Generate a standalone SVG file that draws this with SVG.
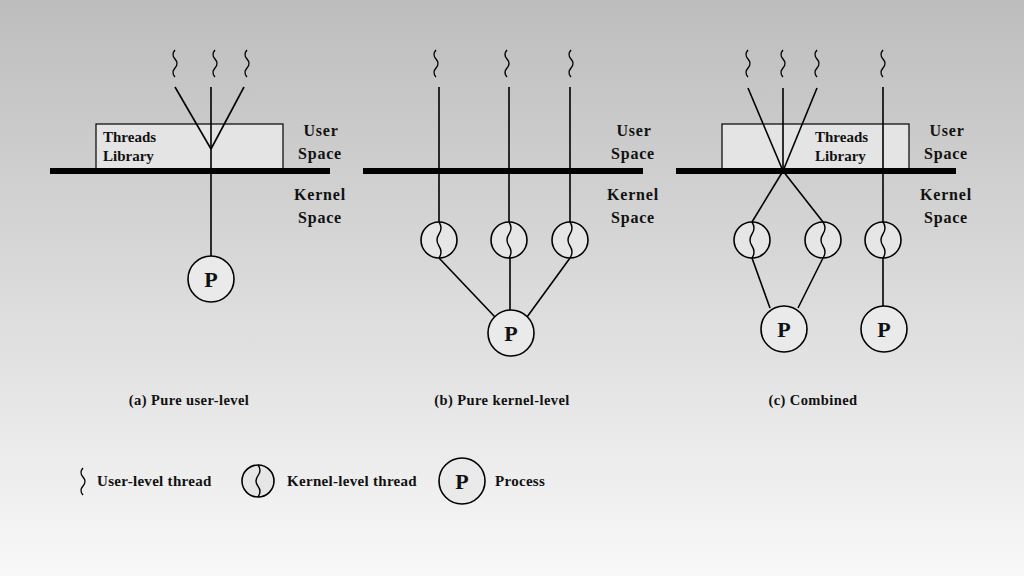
<svg xmlns="http://www.w3.org/2000/svg" width="1024" height="576" viewBox="0 0 1024 576">
<defs>
<linearGradient id="bg" x1="0" y1="0" x2="0" y2="1">
<stop offset="0" stop-color="#bdbdbd"/>
<stop offset="1" stop-color="#f8f8f8"/>
</linearGradient>
</defs>
<style>
.ln{stroke:#000;stroke-width:1.6;fill:none}
.sq{stroke:#000;stroke-width:1.4;fill:none}
.bar{fill:#000}
.box{fill:#e4e4e4;stroke:#000;stroke-width:1.2}
.kc{fill:#e6e6e6;stroke:#000;stroke-width:1.6}
.pc{fill:#eaeaea;stroke:#000;stroke-width:1.6}
.t{font-family:"Liberation Serif","DejaVu Serif",serif;font-weight:bold;fill:#111}
.lib{font-size:15px}
.sp{font-size:16px;letter-spacing:0.8px;text-anchor:middle}
.cap{font-size:14.5px;letter-spacing:0.4px;text-anchor:middle}
.p{font-size:22px;text-anchor:middle}
.lg{font-size:15px;letter-spacing:0.3px}
</style>
<rect width="1024" height="576" fill="url(#bg)"/>

<g id="panel-a">
<g id="a-threads">
<path class="sq" d="M175 50 Q171 54.5 175 59 T175 68 T175 77"/>
<path class="sq" d="M215 50 Q211 54.5 215 59 T215 68 T215 77"/>
<path class="sq" d="M247 50 Q243 54.5 247 59 T247 68 T247 77"/>
</g>
<g id="a-library">
<rect class="box" x="96" y="124" width="187" height="45"/>
<text class="t lib" x="103" y="142">Threads</text>
<text class="t lib" x="103" y="161">Library</text>
</g>
<rect class="bar" x="50" y="168" width="280" height="6"/>
<g id="a-labels">
<text class="t sp" x="321" y="136">User</text>
<text class="t sp" x="320" y="159">Space</text>
<text class="t sp" x="320" y="200">Kernel</text>
<text class="t sp" x="320" y="223">Space</text>
</g>
<g id="a-process">
<circle class="pc" cx="211" cy="279" r="23"/>
<text class="t p" x="211" y="287">P</text>
</g>
<text class="t cap" x="189" y="405">(a) Pure user-level</text>
</g>

<g id="panel-b">
<g id="b-threads">
<path class="sq" d="M436 50 Q432 54.5 436 59 T436 68 T436 77"/>
<path class="sq" d="M507 50 Q503 54.5 507 59 T507 68 T507 77"/>
<path class="sq" d="M571 50 Q567 54.5 571 59 T571 68 T571 77"/>
</g>
<rect class="bar" x="363" y="168" width="280" height="6"/>
<g id="b-labels">
<text class="t sp" x="634" y="136">User</text>
<text class="t sp" x="633" y="159">Space</text>
<text class="t sp" x="633" y="200">Kernel</text>
<text class="t sp" x="633" y="223">Space</text>
</g>
<g id="b-k1"><circle class="kc" cx="439" cy="240" r="18"/><path class="sq" d="M439 222 Q443 228 439 234 T439 246 T439 258"/></g>
<g id="b-k2"><circle class="kc" cx="509" cy="240" r="18"/><path class="sq" d="M509 222 Q513 228 509 234 T509 246 T509 258"/></g>
<g id="b-k3"><circle class="kc" cx="570" cy="240" r="18"/><path class="sq" d="M570 222 Q574 228 570 234 T570 246 T570 258"/></g>
<g id="b-process">
<circle class="pc" cx="511" cy="333" r="23"/>
<text class="t p" x="511" y="341">P</text>
</g>
<text class="t cap" x="502" y="405">(b) Pure kernel-level</text>
</g>

<g id="panel-c">
<g id="c-threads">
<path class="sq" d="M748 50 Q744 54.5 748 59 T748 68 T748 77"/>
<path class="sq" d="M783 50 Q779 54.5 783 59 T783 68 T783 77"/>
<path class="sq" d="M817 50 Q813 54.5 817 59 T817 68 T817 77"/>
<path class="sq" d="M883 50 Q879 54.5 883 59 T883 68 T883 77"/>
</g>
<g id="c-library">
<rect class="box" x="722" y="124" width="187" height="45"/>
<text class="t lib" x="815" y="142">Threads</text>
<text class="t lib" x="815" y="161">Library</text>
</g>
<rect class="bar" x="676" y="168" width="280" height="6"/>
<g id="c-labels">
<text class="t sp" x="947" y="136">User</text>
<text class="t sp" x="946" y="159">Space</text>
<text class="t sp" x="946" y="200">Kernel</text>
<text class="t sp" x="946" y="223">Space</text>
</g>
<g id="c-k1"><circle class="kc" cx="752" cy="240" r="18"/><path class="sq" d="M752 222 Q756 228 752 234 T752 246 T752 258"/></g>
<g id="c-k2"><circle class="kc" cx="823" cy="240" r="18"/><path class="sq" d="M823 222 Q827 228 823 234 T823 246 T823 258"/></g>
<g id="c-k3"><circle class="kc" cx="883" cy="240" r="18"/><path class="sq" d="M883 222 Q887 228 883 234 T883 246 T883 258"/></g>
<g id="c-p1">
<circle class="pc" cx="784" cy="329" r="23"/>
<text class="t p" x="784" y="337">P</text>
</g>
<g id="c-p2">
<circle class="pc" cx="884" cy="329" r="23"/>
<text class="t p" x="884" y="337">P</text>
</g>
<text class="t cap" x="813" y="405">(c) Combined</text>
</g>

<g id="connectors">
<line class="ln" x1="175" y1="87" x2="211" y2="149"/>
<line class="ln" x1="244" y1="87" x2="211" y2="149"/>
<line class="ln" x1="211" y1="87" x2="211" y2="256"/>

<line class="ln" x1="439" y1="87" x2="439" y2="222"/>
<line class="ln" x1="509" y1="87" x2="509" y2="222"/>
<line class="ln" x1="570" y1="87" x2="570" y2="222"/>
<line class="ln" x1="439" y1="258" x2="495" y2="317"/>
<line class="ln" x1="510" y1="258" x2="510" y2="310"/>
<line class="ln" x1="570" y1="258" x2="527" y2="317"/>

<line class="ln" x1="748" y1="88" x2="783" y2="171"/>
<line class="ln" x1="817" y1="88" x2="783" y2="171"/>
<line class="ln" x1="783" y1="88" x2="783" y2="171"/>
<line class="ln" x1="783" y1="171" x2="752" y2="222"/>
<line class="ln" x1="783" y1="171" x2="823" y2="222"/>
<line class="ln" x1="883" y1="87" x2="883" y2="222"/>
<line class="ln" x1="752" y1="258" x2="770" y2="308"/>
<line class="ln" x1="823" y1="258" x2="798" y2="308"/>
<line class="ln" x1="883" y1="258" x2="883" y2="306"/>
</g>

<g id="legend">
<g id="lg-user">
<path class="sq" d="M83 468 Q79 472.5 83 477 T83 486 T83 495"/>
<text class="t lg" x="97" y="486">User-level thread</text>
</g>
<g id="lg-kernel">
<circle class="kc" cx="258" cy="481" r="16"/>
<path class="sq" d="M258 465 Q262 470.3 258 475.7 T258 486.3 T258 497"/>
<text class="t lg" x="287" y="486">Kernel-level thread</text>
</g>
<g id="lg-process">
<circle class="pc" cx="462" cy="481" r="23"/>
<text class="t p" x="462" y="489">P</text>
<text class="t lg" x="495" y="486">Process</text>
</g>
</g>
</svg>
